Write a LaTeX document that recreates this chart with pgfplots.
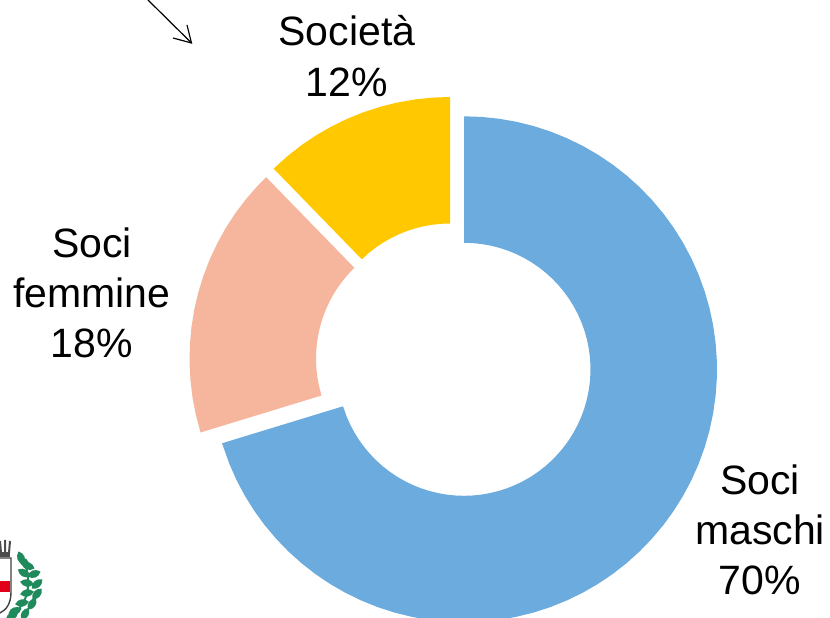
\documentclass[border=0pt]{standalone}
\usepackage{fontspec}
\setmainfont{Liberation Sans}
\usepackage{pgfplots}
\pgfplotsset{compat=1.18}
\usepgfplotslibrary{polar}
\definecolor{cblue}{HTML}{6CABDD}
\definecolor{corange}{HTML}{F6B69D}
\definecolor{cyellow}{HTML}{FFC800}
\definecolor{cgreen}{HTML}{1F8A5B}
\definecolor{cred}{HTML}{E2001A}
\begin{document}
\begin{tikzpicture}[x=1pt,y=1pt]
\clip (0,0) rectangle (830,618);
\begin{polaraxis}[
  at={(454.4pt,256pt)}, anchor=center,
  scale only axis, width=506pt, height=506pt,
  xmin=0, xmax=360, ymin=0, ymax=253,
  hide axis, clip=false]
% Soci maschi 70%
\addplot[fill=cblue, draw=none, shift={(9.6pt,-7.3pt)}] coordinates {
(197,253)(202,253)(206,253)(210,253)(214,253)(218,253)(222,253)(226,253)(230,253)(234,253)(238,253)(242,253)(246,253)(250,253)(254,253)(258,253)(262,253)(266,253)(270,253)(274,253)(278,253)(282,253)(286,253)(290,253)(294,253)(298,253)(302,253)(306,253)(310,253)(314,253)(318,253)(322,253)(326,253)(330,253)(334,253)(338,253)(342,253)(346,253)(350,253)(354,253)(358,253)(362,253)(366,253)(370,253)(374,253)(378,253)(382,253)(386,253)(390,253)(394,253)(398,253)(402,253)(406,253)(410,253)(414,253)(418,253)(422,253)(426,253)(430,253)(434,253)(438,253)(442,253)(446,253)(450,253)
(450,126.5)(446,126.5)(442,126.5)(438,126.5)(434,126.5)(430,126.5)(426,126.5)(422,126.5)(418,126.5)(414,126.5)(410,126.5)(406,126.5)(402,126.5)(398,126.5)(394,126.5)(390,126.5)(386,126.5)(382,126.5)(378,126.5)(374,126.5)(370,126.5)(366,126.5)(362,126.5)(358,126.5)(354,126.5)(350,126.5)(346,126.5)(342,126.5)(338,126.5)(334,126.5)(330,126.5)(326,126.5)(322,126.5)(318,126.5)(314,126.5)(310,126.5)(306,126.5)(302,126.5)(298,126.5)(294,126.5)(290,126.5)(286,126.5)(282,126.5)(278,126.5)(274,126.5)(270,126.5)(266,126.5)(262,126.5)(258,126.5)(254,126.5)(250,126.5)(246,126.5)(242,126.5)(238,126.5)(234,126.5)(230,126.5)(226,126.5)(222,126.5)(218,126.5)(214,126.5)(210,126.5)(206,126.5)(202,126.5)(197,126.5)
};
% Soci femmine 18%
\addplot[fill=corange, draw=none, shift={(-11.9pt,3.5pt)}] coordinates {
(134.2,253)(137,253)(141,253)(145,253)(149,253)(153,253)(157,253)(161,253)(165,253)(169,253)(173,253)(177,253)(181,253)(185,253)(189,253)(193,253)(197,253)
(197,126.5)(193,126.5)(189,126.5)(185,126.5)(181,126.5)(177,126.5)(173,126.5)(169,126.5)(165,126.5)(161,126.5)(157,126.5)(153,126.5)(149,126.5)(145,126.5)(141,126.5)(137,126.5)(134.2,126.5)
};
% Societa 12%
\addplot[fill=cyellow, draw=none, shift={(-4.4pt,12pt)}] coordinates {
(90,253)(94,253)(98,253)(102,253)(106,253)(110,253)(114,253)(118,253)(122,253)(126,253)(130,253)(134.2,253)
(134.2,126.5)(130,126.5)(126,126.5)(122,126.5)(118,126.5)(114,126.5)(110,126.5)(106,126.5)(102,126.5)(98,126.5)(94,126.5)(90,126.5)
};
\end{polaraxis}
% labels
\tikzset{lab/.style={font=\fontsize{41}{50}\selectfont, inner sep=0pt, anchor=center}}
\node[lab] at (347,587.5) {Società};
\node[lab] at (347,535.5) {12\%};
\node[lab] at (92,375) {Soci};
\node[lab] at (92,325) {femmine};
\node[lab] at (92,275) {18\%};
\node[lab] at (760,138) {Soci};
\node[lab] at (760,88) {maschi};
\node[lab] at (760,38) {70\%};
% arrow
\draw[black, line width=1.2pt] (148,618) -- (191.5,575);
\draw[black, line width=1.2pt, line join=miter] (173,580) -- (191.5,575) -- (187,593);
% emblem (shield, crown, laurel)
\draw[black!75, line width=1.4pt] (0,60) -- (11,60) -- (11,26) .. controls (11,14) and (6,8) .. (0,5);
\fill[cred] (0,26) rectangle (10,37);
\fill[black!70] (0,60.5) rectangle (10,66);
\draw[black!70, line width=2pt] (1,65) -- (0,77) (5,65) -- (5,78) (9,65) -- (10,77);
\draw[cgreen, line width=2pt] (23,60) .. controls (34,32) and (27,12) .. (8,0);
\foreach \x/\y/\a in {21/60/-70,24/56/140,28/52/-20,24/45/150,34/44/20,27/35/170,37/34/40,27/25/190,37/24/50,22/15/190,32/14/55,15/7/200,25/4/60,12/2/210}{
  \fill[cgreen,rotate around={\a:(\x,\y)}] (\x-7,\y) .. controls (\x-3,\y+5) and (\x+3,\y+5) .. (\x+7,\y) .. controls (\x+3,\y-5) and (\x-3,\y-5) .. (\x-7,\y);
}
\end{tikzpicture}
\end{document}
